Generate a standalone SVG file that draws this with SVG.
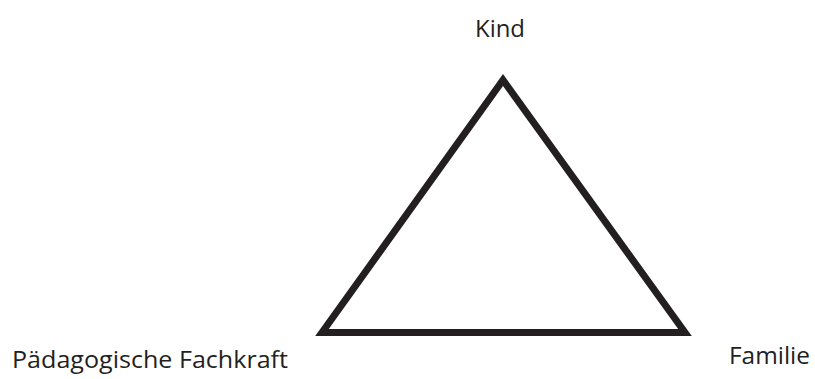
<svg xmlns="http://www.w3.org/2000/svg" width="815" height="379" viewBox="0 0 815 379">
<style>
.lbl{font-family:"Open Sans","Liberation Sans",sans-serif;font-size:23.5px;fill:#231f20}
.edge{fill:none;stroke:#231f20;stroke-width:7;stroke-linejoin:miter}
</style>
<rect width="815" height="379" fill="#fff"/>
<g id="connectors">
<polygon class="edge" points="503,80 685,332.5 322,332.5"/>
</g>
<g id="kind"><text class="lbl" x="475" y="37" textLength="50" lengthAdjust="spacingAndGlyphs">Kind</text></g>
<g id="fachkraft"><text class="lbl" x="12" y="368" textLength="276" lengthAdjust="spacingAndGlyphs">Pädagogische Fachkraft</text></g>
<g id="familie"><text class="lbl" x="729" y="364" textLength="81" lengthAdjust="spacingAndGlyphs">Familie</text></g>
</svg>
